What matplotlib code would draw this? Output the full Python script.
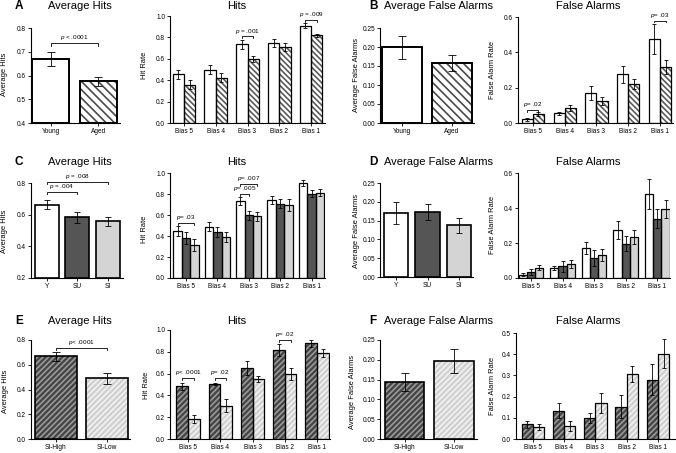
import numpy as np
import matplotlib
matplotlib.use('Agg')
import matplotlib.pyplot as plt

plt.rcParams['font.family'] = ['Liberation Sans', 'DejaVu Sans']
plt.rcParams['mathtext.fontset'] = 'custom'
plt.rcParams['mathtext.rm'] = 'Liberation Sans'
plt.rcParams['mathtext.it'] = 'Liberation Sans:italic'
plt.rcParams['hatch.linewidth'] = 1.2

W, H = 676, 453

bias_labels = ['Bias 5', 'Bias 4', 'Bias 3', 'Bias 2', 'Bias 1']
age_labels = ['Young', 'Aged']
group_labels = ['Y', 'SU', 'SI']
si_labels = ['SI-High', 'SI-Low']

# A: young vs aged hits
A_avg = [0.670, 0.575]
A_avg_err = [0.028, 0.018]
A_young = [0.455, 0.498, 0.735, 0.748, 0.910]
A_young_err = [0.045, 0.042, 0.039, 0.039, 0.026]
A_aged = [0.358, 0.424, 0.601, 0.710, 0.820]
A_aged_err = [0.043, 0.045, 0.028, 0.034, 0.013]

# B: young vs aged false alarms
B_avg = [0.199, 0.158]
B_avg_err = [0.031, 0.020]
B_young = [0.020, 0.056, 0.170, 0.275, 0.477]
B_young_err = [0.008, 0.008, 0.037, 0.050, 0.085]
B_aged = [0.053, 0.084, 0.125, 0.223, 0.316]
B_aged_err = [0.011, 0.016, 0.021, 0.028, 0.040]

# C: Y / SU / SI hits
C_avg = [0.663, 0.585, 0.557]
C_avg_err = [0.029, 0.035, 0.030]
C_Y = [0.448, 0.489, 0.732, 0.741, 0.905]
C_Y_err = [0.047, 0.041, 0.037, 0.039, 0.027]
C_SU = [0.383, 0.435, 0.598, 0.708, 0.803]
C_SU_err = [0.058, 0.047, 0.043, 0.045, 0.035]
C_SI = [0.315, 0.388, 0.589, 0.694, 0.813]
C_SI_err = [0.054, 0.048, 0.043, 0.054, 0.030]

# D: Y / SU / SI false alarms
D_avg = [0.170, 0.172, 0.137]
D_avg_err = [0.029, 0.021, 0.020]
D_Y = [0.019, 0.057, 0.171, 0.276, 0.480]
D_Y_err = [0.007, 0.013, 0.035, 0.052, 0.086]
D_SU = [0.034, 0.067, 0.114, 0.196, 0.339]
D_SU_err = [0.018, 0.030, 0.048, 0.043, 0.056]
D_SI = [0.060, 0.082, 0.133, 0.233, 0.393]
D_SI_err = [0.012, 0.022, 0.033, 0.040, 0.051]

# E: SI-High vs SI-Low hits
E_avg = [0.667, 0.490]
E_avg_err = [0.035, 0.045]
E_high = [0.482, 0.506, 0.649, 0.816, 0.878]
E_high_err = [0.030, 0.008, 0.064, 0.054, 0.030]
E_low = [0.182, 0.306, 0.552, 0.594, 0.787]
E_low_err = [0.035, 0.061, 0.030, 0.056, 0.039]

# F: SI-High vs SI-Low false alarms
F_avg = [0.143, 0.197]
F_avg_err = [0.023, 0.031]
F_high = [0.070, 0.134, 0.099, 0.153, 0.280]
F_high_err = [0.017, 0.037, 0.024, 0.053, 0.074]
F_low = [0.058, 0.061, 0.171, 0.307, 0.403]
F_low_err = [0.014, 0.022, 0.048, 0.036, 0.068]

WHITE = dict(face='white')
AGED_BIG = dict(face='white', hatch='\\\\\\\\', hc='#4a4a4a')
AGED_SMALL = dict(face='white', hatch='\\\\\\\\\\\\', hc='#5a5a5a')
SU = dict(face='#555555')
SI = dict(face='#d4d4d4')
HIGH = dict(face='#444444', hatch='//////', hc='#9a9a9a')
LOW = dict(face='#d0d0d0', hatch='//////', hc='#f2f2f2')


def add_axes(fig, x0, x1, ybot, ytop):
    return fig.add_axes([x0 / W, 1 - ybot / H, (x1 - x0) / W, (ybot - ytop) / H])


def setup(ax, ylim, yticks, fmt, xlim, xticks, xlabels):
    ax.set_xlim(xlim)
    ax.set_ylim(ylim)
    ax.set_yticks(yticks)
    ax.set_yticklabels([fmt.format(t) for t in yticks])
    ax.set_xticks(xticks)
    ax.set_xticklabels(xlabels)
    for s in ['top', 'right']:
        ax.spines[s].set_visible(False)
    for s in ['left', 'bottom']:
        ax.spines[s].set_linewidth(0.8)
    ax.tick_params(length=2, width=0.6, labelsize=4.7, pad=1.5)


def bars(ax, x, vals, errs, w, st, bottom=0.0, lw=0.9, cap=1.4):
    x = np.asarray(x, dtype=float)
    vals = np.asarray(vals)
    ax.bar(x, vals - bottom, w, bottom=bottom, color=st['face'],
           edgecolor=st.get('hc', st['face']), hatch=st.get('hatch'),
           linewidth=0, zorder=2)
    ax.bar(x, vals - bottom, w, bottom=bottom, fill=False,
           edgecolor='black', linewidth=lw, zorder=3)
    ax.errorbar(x, vals, yerr=errs, fmt='none', ecolor='black',
                elinewidth=0.6, capsize=cap, capthick=0.6, zorder=4)


def bracket(ax, x1, x2, y, dy, text):
    ax.plot([x1, x1, x2, x2], [y - dy, y, y, y - dy], color='black',
            lw=0.6, clip_on=False, zorder=5)
    ax.text((x1 + x2) / 2, y + dy * 0.4, text, ha='center', va='bottom',
            fontsize=4.6, clip_on=False)


def title(x, y, text, bold=False):
    fig.text(x / W, 1 - y / H, text, ha='center', va='center',
             fontsize=8.5 if bold else 8, fontweight='bold' if bold else 'normal')


def ylabel(x, y, text):
    fig.text(x / W, 1 - y / H, text, ha='center', va='center',
             rotation=90, fontsize=5.4)


fig = plt.figure(figsize=(6.76, 4.53), dpi=100)
idx = np.arange(5)

# ---- A ----
ax = add_axes(fig, 31, 120, 123, 28)
setup(ax, (0.4, 0.8), np.arange(0.4, 0.81, 0.1), '{:.1f}', (-0.41, 1.45), [0, 1], age_labels)
bars(ax, [0], A_avg[:1], A_avg_err[:1], 0.78, WHITE, bottom=0.4, lw=1.4, cap=3)
bars(ax, [1], A_avg[1:], A_avg_err[1:], 0.78, AGED_BIG, bottom=0.4, lw=1.4, cap=3)
bracket(ax, 0, 1, 0.737, 0.012, '$p$ < .0001')

ax = add_axes(fig, 170, 325, 123, 16)
w = 0.36
setup(ax, (0, 1), np.arange(0, 1.01, 0.2), '{:.1f}', (-0.44, 4.44), idx, bias_labels)
bars(ax, idx - w / 2, A_young, A_young_err, w, WHITE)
bars(ax, idx + w / 2, A_aged, A_aged_err, w, AGED_SMALL)
bracket(ax, 2 - w / 2, 2 + w / 2, 0.81, 0.018, '$p$ = .001')
bracket(ax, 4 - w / 2, 4 + w / 2, 0.965, 0.018, '$p$ = .009')

# ---- B ----
ax = add_axes(fig, 380, 474, 123, 28)
setup(ax, (0, 0.25), np.arange(0, 0.251, 0.05), '{:.2f}', (-0.44, 1.44), [0, 1], age_labels)
bars(ax, [0], B_avg[:1], B_avg_err[:1], 0.8, WHITE, lw=1.4, cap=3)
bars(ax, [1], B_avg[1:], B_avg_err[1:], 0.8, AGED_BIG, lw=1.4, cap=3)

ax = add_axes(fig, 518, 673, 123, 17)
w = 0.35
setup(ax, (0, 0.6), np.arange(0, 0.61, 0.2), '{:.1f}', (-0.47, 4.41), idx, bias_labels)
bars(ax, idx - w / 2, B_young, B_young_err, w, WHITE)
bars(ax, idx + w / 2, B_aged, B_aged_err, w, AGED_SMALL)
bracket(ax, -w / 2, w / 2, 0.075, 0.011, '$p$= .02')
bracket(ax, 4 - w / 2, 4 + w / 2, 0.58, 0.011, '$p$= .03')

# ---- C ----
ax = add_axes(fig, 31, 123, 278, 183)
setup(ax, (0.2, 0.8), np.arange(0.2, 0.81, 0.2), '{:.1f}', (-0.52, 2.5), [0, 1, 2], group_labels)
for i, st in enumerate([WHITE, SU, SI]):
    bars(ax, [i], C_avg[i:i + 1], C_avg_err[i:i + 1], 0.8, st, bottom=0.2, lw=1.2, cap=2.5)
bracket(ax, 0, 1, 0.743, 0.015, '$p$ = .004')
bracket(ax, 0, 2, 0.806, 0.015, '$p$ = .008')

ax = add_axes(fig, 170, 325, 278, 173)
w = 0.27
setup(ax, (0, 1), np.arange(0, 1.01, 0.2), '{:.1f}', (-0.51, 4.43), idx, bias_labels)
bars(ax, idx - w, C_Y, C_Y_err, w, WHITE)
bars(ax, idx, C_SU, C_SU_err, w, SU)
bars(ax, idx + w, C_SI, C_SI_err, w, SI)
bracket(ax, -w, w, 0.527, 0.018, '$p$= .03')
bracket(ax, 2 - w, 2 + w, 0.893, 0.018, '$p$= .007')
bracket(ax, 2 - w, 2, 0.798, 0.018, '$p$= .005')

# ---- D ----
ax = add_axes(fig, 380, 473, 277, 183)
setup(ax, (0, 0.25), np.arange(0, 0.251, 0.05), '{:.2f}', (-0.51, 2.44), [0, 1, 2], group_labels)
for i, st in enumerate([WHITE, SU, SI]):
    bars(ax, [i], D_avg[i:i + 1], D_avg_err[i:i + 1], 0.78, st, lw=1.2, cap=2.5)

ax = add_axes(fig, 518, 670, 278, 173)
w = 0.26
setup(ax, (0, 0.6), np.arange(0, 0.61, 0.2), '{:.1f}', (-0.41, 4.4), idx, bias_labels)
bars(ax, idx - w, D_Y, D_Y_err, w, WHITE)
bars(ax, idx, D_SU, D_SU_err, w, SU)
bars(ax, idx + w, D_SI, D_SI_err, w, SI)

# ---- E ----
ax = add_axes(fig, 31, 130, 439, 340)
setup(ax, (0, 0.8), np.arange(0, 0.81, 0.2), '{:.1f}', (-0.48, 1.45), [0, 1], si_labels)
bars(ax, [0], E_avg[:1], E_avg_err[:1], 0.82, HIGH, lw=1.2, cap=3)
bars(ax, [1], E_avg[1:], E_avg_err[1:], 0.82, LOW, lw=1.2, cap=3)
bracket(ax, 0, 1, 0.739, 0.02, '$p$< .0001')

ax = add_axes(fig, 170, 330, 439, 330)
w = 0.36
setup(ax, (0, 1), np.arange(0, 1.01, 0.2), '{:.1f}', (-0.56, 4.4), idx, bias_labels)
bars(ax, idx - w / 2, E_high, E_high_err, w, HIGH)
bars(ax, idx + w / 2, E_low, E_low_err, w, LOW)
bracket(ax, -w / 2, w / 2, 0.558, 0.018, '$p$< .0001')
bracket(ax, 1 - w / 2, 1 + w / 2, 0.558, 0.018, '$p$= .02')
bracket(ax, 3 - w / 2, 3 + w / 2, 0.909, 0.018, '$p$= .02')

# ---- F ----
ax = add_axes(fig, 380, 477, 439, 340)
setup(ax, (0, 0.25), np.arange(0, 0.251, 0.05), '{:.2f}', (-0.5, 1.47), [0, 1], si_labels)
bars(ax, [0], F_avg[:1], F_avg_err[:1], 0.8, HIGH, lw=1.2, cap=3)
bars(ax, [1], F_avg[1:], F_avg_err[1:], 0.8, LOW, lw=1.2, cap=3)

ax = add_axes(fig, 516, 676, 439, 333)
w = 0.36
setup(ax, (0, 0.5), np.arange(0, 0.51, 0.1), '{:.1f}', (-0.54, 4.58), idx, bias_labels)
bars(ax, idx - w / 2, F_high, F_high_err, w, HIGH)
bars(ax, idx + w / 2, F_low, F_low_err, w, LOW)

# titles and axis labels
for letter, ly in [('A', 6), ('C', 162), ('E', 321)]:
    title(19, ly, letter, bold=True)
    title(80, ly, 'Average Hits')
    title(237, ly, 'Hits')
for letter, ly in [('B', 6), ('D', 162), ('F', 321)]:
    title(373, ly, letter, bold=True)
    title(438, ly, 'Average False Alarms')
    title(588, ly, 'False Alarms')

ylabel(5, 74, 'Average Hits')
ylabel(144, 65, 'Hit Rate')
ylabel(356, 75, 'Average False Alarms')
ylabel(493, 70, 'False Alarm Rate')
ylabel(5, 231, 'Average Hits')
ylabel(145, 229, 'Hit Rate')
ylabel(356, 231, 'Average False Alarms')
ylabel(493, 225, 'False Alarm Rate')
ylabel(6, 391, 'Average Hits')
ylabel(146, 385, 'Hit Rate')
ylabel(352, 392, 'Average False Alarms')
ylabel(493, 386, 'False Alarm Rate')

fig.savefig('out.png', dpi=100)
